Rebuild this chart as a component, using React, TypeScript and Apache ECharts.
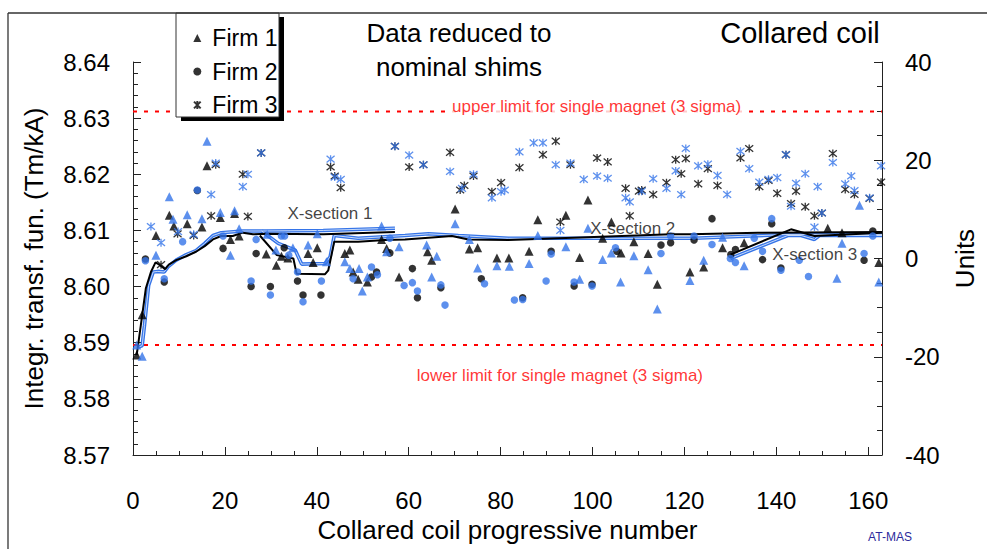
import React, { useEffect, useRef } from "react";
import * as echarts from "echarts";

// ---------- data ----------
const xMin = 0;
const xMax = 163;
const leftMin = 8.57;
const leftMax = 8.64;
const leftStep = 0.01;
const rightMin = -40;
const rightMax = 40;
const rightStep = 20;

const upperLimit = 8.6312;
const lowerLimit = 8.5896;

const legendNames = ["Firm 1", "Firm 2", "Firm 3"];

// Firm 1 (triangles) – black = measured, blue = reduced
const firm1Black = [
  [0.8, 8.5878], [2.0, 8.595], [5.0, 8.6091], [7.9, 8.6127], [8.9, 8.6108], [11.8, 8.6112],
  [15.0, 8.6106], [16.1, 8.6215], [19.0, 8.6123], [21.2, 8.6084], [22.1, 8.613], [23.1, 8.609],
  [29.0, 8.6058], [31.2, 8.6038], [32.3, 8.6054], [33.7, 8.6051], [38.1, 8.6059], [39.2, 8.6043],
  [40.1, 8.6069], [46.1, 8.6059], [47.2, 8.6065], [47.9, 8.6026], [49.0, 8.6013], [51.0, 8.6008],
  [54.1, 8.6084], [55.2, 8.6068], [57.9, 8.6017], [64.1, 8.6062], [65.0, 8.6047], [70.1, 8.6138],
  [73.2, 8.6067], [75.0, 8.6069], [79.2, 8.6051], [81.8, 8.6051], [86.2, 8.6063], [88.1, 8.6119],
  [94.2, 8.6127], [97.2, 8.6052], [99.0, 8.6154], [102.2, 8.6086], [104.1, 8.6115], [106.2, 8.606],
  [109.0, 8.608], [112.1, 8.6059], [114.1, 8.6004], [121.2, 8.6026], [124.2, 8.6035], [128.3, 8.6069],
  [133.0, 8.6078], [151.2, 8.6104], [154.3, 8.6096], [162.3, 8.6043],
];
const firm1Blue = [
  [0.8, 8.5896], [2.0, 8.5876], [5.0, 8.6056], [7.9, 8.616], [8.7, 8.612], [11.8, 8.6128],
  [15.0, 8.6121], [16.1, 8.6259], [19.0, 8.6132], [21.2, 8.6056], [22.1, 8.6135], [23.1, 8.6103],
  [29.2, 8.6093], [31.1, 8.6065], [34.8, 8.6069], [38.1, 8.6074], [40.1, 8.6094], [42.1, 8.6044],
  [46.1, 8.6044], [47.2, 8.6032], [49.2, 8.6032], [49.9, 8.5992], [51.0, 8.6017], [54.1, 8.6108],
  [55.2, 8.6062], [57.9, 8.6071], [63.9, 8.6074], [65.0, 8.6017], [66.1, 8.6054], [70.1, 8.6112],
  [73.2, 8.6084], [75.0, 8.6033], [79.2, 8.6037], [81.9, 8.6036], [86.2, 8.6041], [88.1, 8.6091],
  [94.2, 8.6071], [97.2, 8.6013], [99.0, 8.6104], [102.2, 8.6048], [104.1, 8.606], [106.1, 8.6008],
  [109.0, 8.6055], [112.1, 8.603], [114.1, 8.596], [121.2, 8.6011], [124.2, 8.6047], [128.3, 8.6088],
  [133.0, 8.6037], [153.2, 8.6015], [154.3, 8.6077], [158.1, 8.6145], [162.3, 8.6008],
];

// Firm 2 (circles)
const firm2Black = [
  [2.7, 8.6049], [6.8, 8.6008], [14.0, 8.6171], [19.6, 8.6068], [25.7, 8.6], [26.8, 8.6059],
  [29.9, 8.6], [32.9, 8.6069], [35.8, 8.601], [37.0, 8.5985], [40.9, 8.5985], [51.9, 8.6017],
  [53.0, 8.6026], [55.9, 8.606], [60.8, 8.6032], [61.9, 8.598], [67.0, 8.5998], [75.8, 8.6014],
  [84.8, 8.598], [91.0, 8.6063], [96.0, 8.6001], [99.9, 8.6004], [105.3, 8.6063], [114.9, 8.6074],
  [117.0, 8.6078], [122.1, 8.6083], [126.0, 8.6121], [130.1, 8.6057], [131.1, 8.6066], [137.0, 8.6048],
  [139.0, 8.6112], [141.0, 8.6033], [159.1, 8.6047], [161.0, 8.6099],
];
const firm2Blue = [
  [2.7, 8.6046], [6.8, 8.6014], [10.8, 8.608], [14.0, 8.6172], [19.6, 8.609], [25.7, 8.601],
  [26.8, 8.6084], [29.9, 8.5985], [32.3, 8.609], [33.0, 8.609], [33.9, 8.6056], [35.8, 8.6026],
  [37.0, 8.5973], [41.0, 8.601], [47.9, 8.6014], [51.9, 8.6035], [53.2, 8.6021], [55.9, 8.6086],
  [59.0, 8.6002], [60.8, 8.6007], [61.9, 8.5992], [67.0, 8.6003], [67.9, 8.5967], [76.5, 8.6005],
  [83.0, 8.5976], [84.8, 8.5977], [89.9, 8.601], [91.0, 8.6058], [96.0, 8.6008], [99.9, 8.6001],
  [105.0, 8.6069], [114.9, 8.6059], [117.0, 8.609], [122.1, 8.609], [126.0, 8.6075], [130.0, 8.605],
  [131.1, 8.6043], [135.2, 8.6086], [137.0, 8.6063], [139.0, 8.6121], [141.0, 8.6029], [145.0, 8.6047],
  [147.0, 8.6018], [159.1, 8.6059], [161.0, 8.609],
];

// Firm 3 (asterisks)
const firm3Black = [
  [6.1, 8.6039], [9.7, 8.6094], [13.2, 8.6091], [17.0, 8.6126], [18.0, 8.6217], [23.9, 8.62],
  [25.0, 8.6125], [27.9, 8.6238], [43.0, 8.6213], [43.9, 8.6197], [45.2, 8.6176], [57.0, 8.625],
  [60.1, 8.6213], [63.2, 8.6217], [69.0, 8.6239], [71.2, 8.6172], [72.1, 8.618], [74.1, 8.6197],
  [78.1, 8.6169], [80.1, 8.6185], [84.1, 8.6212], [89.2, 8.6235], [92.0, 8.6259], [93.0, 8.6115],
  [95.2, 8.6217], [101.0, 8.6229], [103.3, 8.6222], [107.2, 8.6175], [108.1, 8.6126], [110.1, 8.617],
  [110.7, 8.6172], [113.2, 8.6164], [116.1, 8.6185], [118.1, 8.6226], [119.3, 8.6201], [120.3, 8.6228],
  [123.0, 8.6183], [125.1, 8.621], [127.2, 8.618], [132.2, 8.6229], [134.1, 8.6246], [136.3, 8.6178],
  [138.3, 8.6189], [140.2, 8.6166], [142.1, 8.6235], [143.2, 8.6148], [144.3, 8.617], [146.3, 8.6142],
  [148.3, 8.6126], [149.9, 8.6131], [152.3, 8.6237], [155.0, 8.6173], [157.0, 8.6164], [160.3, 8.6157],
  [162.8, 8.6186],
];
const firm3Blue = [
  [3.9, 8.6107], [6.1, 8.6078], [9.8, 8.6098], [13.2, 8.6093], [17.0, 8.6164], [18.0, 8.622],
  [23.9, 8.6178], [25.0, 8.62], [27.9, 8.6238], [43.0, 8.6227], [43.9, 8.6195], [45.2, 8.6191],
  [57.0, 8.625], [60.1, 8.6234], [63.2, 8.6217], [69.0, 8.6205], [71.6, 8.6175], [74.1, 8.62],
  [78.1, 8.6158], [80.1, 8.6169], [80.9, 8.6172], [84.1, 8.624], [87.2, 8.6256], [89.2, 8.6256],
  [92.0, 8.6217], [93.0, 8.61], [95.2, 8.622], [98.1, 8.6191], [101.0, 8.6197], [103.3, 8.6193],
  [107.2, 8.6158], [108.1, 8.6151], [110.7, 8.617], [113.2, 8.6192], [116.1, 8.6175], [118.1, 8.6206],
  [119.3, 8.6164], [120.3, 8.6246], [123.0, 8.6215], [125.1, 8.6218], [127.2, 8.6198], [129.3, 8.6164],
  [132.2, 8.6241], [134.1, 8.621], [136.3, 8.6186], [138.3, 8.6191], [140.2, 8.6194], [142.1, 8.6235],
  [143.2, 8.6143], [144.3, 8.6184], [146.3, 8.6201], [148.3, 8.6106], [149.0, 8.6178], [149.9, 8.6131],
  [152.3, 8.6221], [155.0, 8.6183], [156.3, 8.6197], [157.0, 8.6171], [160.3, 8.6158], [162.8, 8.6215],
];

// running averages per cross-section
const sec1Black = [
  [0.8, 8.5878], [1.7, 8.5931], [2.8, 8.5997], [3.9, 8.6026], [4.9, 8.6043], [5.9, 8.6038],
  [7.0, 8.6031], [7.8, 8.6039], [9.4, 8.6047], [11.6, 8.6054], [13.7, 8.6062], [15.6, 8.6072],
  [17.4, 8.6084], [19.2, 8.609], [21.7, 8.609], [23.9, 8.6096], [26.1, 8.6093], [28.9, 8.6094],
  [41.4, 8.6093], [57.0, 8.6097],
];
const sec1Blue = [
  [1.2, 8.5892], [2.0, 8.5895], [2.5, 8.5931], [3.4, 8.6002], [4.4, 8.6026], [5.4, 8.6027],
  [6.8, 8.6026], [7.6, 8.6035], [9.4, 8.6047], [11.6, 8.6057], [13.7, 8.6064], [15.6, 8.6077],
  [17.4, 8.6091], [19.2, 8.6096], [23.9, 8.6099], [28.9, 8.6099], [41.4, 8.61], [57.0, 8.6104],
];
const sec2Black = [
  [27.6, 8.6091], [31.3, 8.6056], [34.9, 8.605], [35.6, 8.6023], [41.8, 8.6022], [42.5, 8.6029],
  [43.8, 8.608], [49.0, 8.608], [54.8, 8.6083], [59.2, 8.6084], [64.3, 8.6087], [69.4, 8.609],
  [73.0, 8.6084], [81.7, 8.6083], [98.8, 8.6088], [117.0, 8.6093], [121.4, 8.6093], [136.0, 8.6096],
  [163.0, 8.6097],
];
const sec2Blue = [
  [28.0, 8.6099], [31.6, 8.6077], [35.3, 8.6065], [36.7, 8.604], [41.8, 8.6041], [42.9, 8.6053],
  [43.8, 8.6091], [49.0, 8.6086], [59.2, 8.6091], [64.3, 8.6094], [70.8, 8.6091], [81.7, 8.6086],
  [122.0, 8.6086], [143.2, 8.6093], [163.0, 8.6093],
];
const sec3Black = [[130.0, 8.6057], [143.2, 8.6102], [148.3, 8.609], [163.0, 8.6096]];
const sec3Blue = [
  [130.0, 8.605], [142.5, 8.6091], [145.4, 8.6091], [148.3, 8.6084], [149.4, 8.6091], [163.0, 8.6091],
];

const sectionLabels = [
  { name: "X-section 1", value: [33.5, 8.613] },
  { name: "X-section 2", value: [99.4, 8.6104] },
  { name: "X-section 3", value: [139.0, 8.6057] },
];
const limitLabels = [
  { name: "upper limit for single magnet (3 sigma)", value: [100.9, 8.6321] },
  { name: "lower limit for single magnet (3 sigma)", value: [92.9, 8.5842] },
];

// ---------- styling ----------
const FONT = "'Liberation Sans', Arial, Helvetica, sans-serif";
const BLUE = "#3574e8";
const BLUE_LIGHT = "#c9dbf8";
const AXIS = "#222";
const ASTERISK = "path://M0,0L10,10M10,0L0,10M5,-1L5,11";

export default function App() {
  const ref = useRef<HTMLDivElement>(null);

  useEffect(() => {
    if (!ref.current) return;
    const chart = echarts.init(ref.current, undefined, { renderer: "svg" });

    const limitLine = (name: string, y: number) => ({
      name,
      type: "line",
      data: [[xMin, y], [xMax, y]],
      symbol: "none",
      silent: true,
      z: 1,
      lineStyle: { color: "#ff0000", width: 2, type: [4, 7] },
    });
    const avgLine = (name: string, data: number[][], color: string, width: number, z: number) => ({
      name,
      type: "line",
      data,
      symbol: "none",
      silent: true,
      z,
      lineStyle: { color, width },
    });
    const scatter = (
      name: string,
      data: number[][],
      symbol: string,
      size: number,
      color: string,
      stroke: boolean
    ) => ({
      name,
      type: "scatter",
      data,
      symbol,
      symbolSize: size,
      z: 5,
      itemStyle: stroke
        ? { color: "rgba(0,0,0,0)", borderColor: color, borderWidth: 1.3 }
        : { color },
    });

    chart.setOption({
      animation: false,
      backgroundColor: "#ffffff",
      textStyle: { fontFamily: FONT },
      grid: { left: 133, top: 62, width: 749, height: 393 },
      legend: {
        data: legendNames,
        orient: "vertical",
        left: 188,
        top: 21,
        itemWidth: 8,
        itemHeight: 8,
        itemGap: 9.5,
        selectedMode: false,
        z: 20,
        textStyle: {
          fontSize: 23,
          fontFamily: FONT,
          color: "#000",
          lineHeight: 24,
          padding: [0, 0, 0, 6],
        },
      },
      xAxis: [
        {
          type: "value",
          min: xMin,
          max: xMax,
          interval: 20,
          name: "Collared coil progressive number",
          nameLocation: "middle",
          nameGap: 62,
          nameTextStyle: { fontSize: 26, color: "#000", fontFamily: FONT },
          axisLine: { onZero: false, lineStyle: { color: AXIS, width: 1 } },
          axisTick: { inside: true, length: 8, lineStyle: { color: AXIS } },
          axisLabel: {
            fontSize: 24,
            color: "#000",
            margin: 33,
            showMaxLabel: false,
            fontFamily: FONT,
          },
          splitLine: { show: false },
        },
        {
          type: "value",
          min: xMin,
          max: xMax,
          interval: 5,
          position: "bottom",
          axisLine: { show: false, onZero: false },
          axisTick: { inside: true, length: 4, lineStyle: { color: AXIS } },
          axisLabel: { show: false },
          splitLine: { show: false },
        },
      ],
      yAxis: [
        {
          type: "value",
          min: leftMin,
          max: leftMax,
          interval: leftStep,
          position: "left",
          name: "Integr. transf. fun. (Tm/kA)",
          nameLocation: "middle",
          nameGap: 86,
          nameTextStyle: { fontSize: 26, color: "#000", fontFamily: FONT },
          axisLine: { show: true, onZero: false, lineStyle: { color: AXIS, width: 1 } },
          axisTick: { inside: true, length: 8, lineStyle: { color: AXIS } },
          minorTick: { show: true, splitNumber: 5, length: 5, lineStyle: { color: AXIS } },
          axisLabel: {
            fontSize: 24,
            color: "#000",
            margin: 23,
            fontFamily: FONT,
            formatter: (v: number) => v.toFixed(2),
          },
          splitLine: { show: false },
        },
        {
          type: "value",
          min: rightMin,
          max: rightMax,
          interval: rightStep,
          position: "right",
          name: "Units",
          nameLocation: "middle",
          nameGap: 70,
          nameTextStyle: { fontSize: 26, color: "#000", fontFamily: FONT },
          axisLine: { show: true, onZero: false, lineStyle: { color: AXIS, width: 1 } },
          axisTick: { inside: true, length: 8, lineStyle: { color: AXIS } },
          minorTick: { show: true, splitNumber: 4, length: 5, lineStyle: { color: AXIS } },
          axisLabel: { fontSize: 24, color: "#000", margin: 23, fontFamily: FONT },
          splitLine: { show: false },
        },
      ],
      series: [
        limitLine("upper limit", upperLimit),
        limitLine("lower limit", lowerLimit),
        avgLine("sec1 blue", sec1Blue, BLUE, 3.6, 2),
        avgLine("sec2 blue", sec2Blue, BLUE, 3.6, 2),
        avgLine("sec3 blue", sec3Blue, BLUE, 3.6, 2),
        avgLine("sec1 blue core", sec1Blue, BLUE_LIGHT, 1, 3),
        avgLine("sec2 blue core", sec2Blue, BLUE_LIGHT, 1, 3),
        avgLine("sec3 blue core", sec3Blue, BLUE_LIGHT, 1, 3),
        avgLine("sec1 black", sec1Black, "#000", 2, 4),
        avgLine("sec2 black", sec2Black, "#000", 2, 4),
        avgLine("sec3 black", sec3Black, "#000", 2, 4),
        scatter("Firm 1", firm1Black, "triangle", 9, "#000", false),
        scatter("Firm 2", firm2Black, "circle", 7.5, "#000", false),
        scatter("Firm 3", firm3Black, ASTERISK, 8, "#000", true),
        scatter("Firm 1 reduced", firm1Blue, "triangle", 9, BLUE, false),
        scatter("Firm 2 reduced", firm2Blue, "circle", 7.5, BLUE, false),
        scatter("Firm 3 reduced", firm3Blue, ASTERISK, 8, BLUE, true),
        {
          name: "section labels",
          type: "scatter",
          data: sectionLabels,
          symbolSize: 1,
          silent: true,
          z: 6,
          itemStyle: { color: "rgba(0,0,0,0)" },
          label: {
            show: true,
            position: "right",
            distance: 0,
            formatter: "{b}",
            fontSize: 17,
            color: "#111",
            fontFamily: FONT,
          },
        },
        {
          name: "limit labels",
          type: "scatter",
          data: limitLabels,
          symbolSize: 1,
          silent: true,
          z: 6,
          itemStyle: { color: "rgba(0,0,0,0)" },
          label: {
            show: true,
            position: "inside",
            formatter: "{b}",
            fontSize: 17,
            color: "#ff0000",
            backgroundColor: "#ffffff",
            padding: [0, 3],
            fontFamily: FONT,
          },
        },
      ],
      graphic: [
        { type: "line", z: 30, shape: { x1: 8, y1: 13, x2: 987, y2: 13 }, style: { stroke: "#333", lineWidth: 1.3 } },
        { type: "line", z: 30, shape: { x1: 8, y1: 13, x2: 8, y2: 549 }, style: { stroke: "#333", lineWidth: 1.3 } },
        { type: "rect", z: 10, shape: { x: 181, y: 17, width: 103, height: 104 }, style: { fill: "#000" } },
        { type: "rect", z: 11, shape: { x: 176, y: 13, width: 103, height: 104 }, style: { fill: "#fff", stroke: "#333", lineWidth: 1 } },
        {
          type: "text",
          z: 12,
          x: 459,
          y: 50,
          style: {
            text: "Data reduced to\nnominal shims",
            fontSize: 26,
            lineHeight: 34,
            fontFamily: FONT,
            fill: "#000",
            align: "center",
            verticalAlign: "middle",
          },
        },
        {
          type: "text",
          z: 12,
          x: 800,
          y: 33,
          style: {
            text: "Collared coil",
            fontSize: 29,
            fontFamily: FONT,
            fill: "#000",
            align: "center",
            verticalAlign: "middle",
          },
        },
        {
          type: "text",
          z: 12,
          x: 890,
          y: 537,
          style: {
            text: "AT-MAS",
            fontSize: 12,
            fontFamily: FONT,
            fill: "#2b2b9c",
            align: "center",
            verticalAlign: "middle",
          },
        },
      ],
    });

    return () => chart.dispose();
  }, []);

  return (
    <div
      ref={ref}
      style={{ position: "absolute", left: 0, top: 0, width: 987, height: 549, background: "#fff" }}
    />
  );
}
